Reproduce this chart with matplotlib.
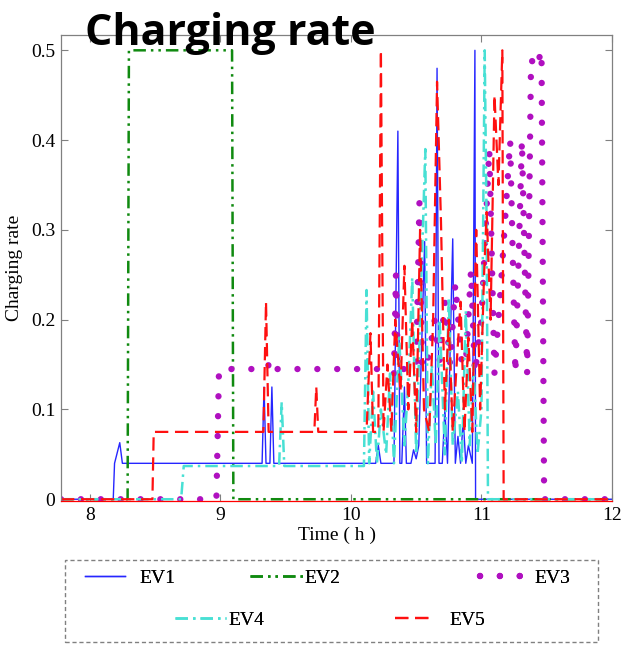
import numpy as np
import matplotlib
matplotlib.use('Agg')
import matplotlib.pyplot as plt

# charging rate of each EV over time (h)
t_ev1 = [7.78, 8.18, 8.19, 8.23, 8.25, 9.32, 9.335, 9.35, 9.38, 9.395, 9.41, 10.19, 10.21, 10.23,
         10.33, 10.36, 10.375, 10.39, 10.41, 10.425, 10.46, 10.48, 10.5, 10.52, 10.565, 10.58,
         10.62, 10.645, 10.66, 10.675, 10.7, 10.72, 10.74, 10.78, 10.80, 10.82, 10.84, 10.86,
         10.88, 10.9, 10.93, 10.95, 10.955, 12.0]
ev1 = [0, 0, 0.04, 0.063, 0.04, 0.04, 0.125, 0.04, 0.04, 0.125, 0.04, 0.04, 0.06, 0.04,
       0.04, 0.41, 0.04, 0.04, 0.125, 0.04, 0.04, 0.055, 0.045, 0.06, 0.287, 0.04,
       0.04, 0.04, 0.48, 0.04, 0.04, 0.1, 0.04, 0.29, 0.04, 0.07, 0.04, 0.09,
       0.04, 0.06, 0.04, 0.5, 0.0, 0.0]

t_ev2 = [7.78, 8.29, 8.30, 9.09, 9.10, 12.0]
ev2 = [0, 0, 0.5, 0.5, 0, 0]

t_ev3 = [7.78, 8.97, 8.99, 9.36, 9.38, 9.40, 10.31, 10.33, 10.345, 10.36, 10.50, 10.525, 10.545,
         10.6, 10.64, 10.68, 10.72, 10.76, 10.8, 10.85, 10.88, 10.92, 10.95, 11.0, 11.06, 11.1,
         11.15, 11.22, 11.26, 11.31, 11.35, 11.38, 11.42, 11.46, 11.48, 12.0]
ev3 = [0, 0, 0.145, 0.145, 0.155, 0.145, 0.145, 0.14, 0.25, 0.145, 0.145, 0.33, 0.145,
       0.16, 0.2, 0.155, 0.22, 0.15, 0.24, 0.15, 0.15, 0.255, 0.14, 0.2, 0.39, 0.14,
       0.24, 0.40, 0.14, 0.40, 0.14, 0.49, 0.48, 0.5, 0.0, 0]

t_ev4 = [7.78, 8.70, 8.72, 9.45, 9.47, 9.49, 10.10, 10.12, 10.14, 10.17, 10.2, 10.23, 10.27, 10.3,
         10.33, 10.37, 10.41, 10.44, 10.47, 10.5, 10.53, 10.57, 10.59, 10.62, 10.65, 10.68,
         10.72, 10.75, 10.78, 10.82, 10.85, 10.88, 10.91, 10.94, 10.97, 11.0, 11.025, 11.04,
         11.05, 12.0]
ev4 = [0, 0, 0.037, 0.037, 0.108, 0.037, 0.037, 0.233, 0.04, 0.12, 0.04, 0.1, 0.05, 0.14,
       0.04, 0.18, 0.06, 0.13, 0.247, 0.05, 0.2, 0.39, 0.04, 0.15, 0.06, 0.2,
       0.05, 0.225, 0.06, 0.12, 0.04, 0.21, 0.06, 0.15, 0.05, 0.1, 0.5, 0.3,
       0.0, 0]

t_ev5 = [7.78, 8.48, 8.49, 9.33, 9.35, 9.37, 9.72, 9.735, 9.75, 10.12, 10.15, 10.17, 10.21, 10.23,
         10.25, 10.28, 10.31, 10.34, 10.38, 10.41, 10.44, 10.47, 10.5, 10.53, 10.56, 10.6,
         10.63, 10.66, 10.69, 10.72, 10.75, 10.78, 10.81, 10.84, 10.87, 10.9, 10.93, 10.96,
         10.99, 11.02, 11.04, 11.07, 11.10, 11.13, 11.16, 11.17, 12.0]
ev5 = [0, 0, 0.075, 0.075, 0.22, 0.075, 0.075, 0.125, 0.075, 0.075, 0.185, 0.075, 0.075, 0.5,
       0.075, 0.15, 0.075, 0.2, 0.12, 0.26, 0.1, 0.2, 0.075, 0.3, 0.1, 0.075,
       0.2, 0.465, 0.31, 0.1, 0.2, 0.075, 0.15, 0.22, 0.075, 0.18, 0.075, 0.3,
       0.1, 0.25, 0.32, 0.2, 0.45, 0.35, 0.5, 0.0, 0]

xticks = [8, 9, 10, 11, 12]
yticks = [0, 0.1, 0.2, 0.3, 0.4, 0.5]
ytick_labels = ['0', '0.1', '0.2', '0.3', '0.4', '0.5']

serif = 'Liberation Serif'
grey = '#808080'
W, H = 629, 649

fig = plt.figure(figsize=(6.29, 6.49), dpi=100)
ax = fig.add_axes([0.097, 0.228, 0.876, 0.718])

l1, = ax.plot(t_ev1, ev1, color='#2626ff', lw=1.0, label='EV1')
l2, = ax.plot(t_ev2, ev2, color='#108a10', lw=1.8, dashes=(5, 2, 1, 2, 1, 2), label='EV2')
l3, = ax.plot(t_ev3, ev3, color='#b010c0', lw=4.6, dashes=(0.01, 3.1),
              dash_capstyle='round', label='EV3')
l4, = ax.plot(t_ev4, ev4, color='#48e0d4', lw=1.8, dashes=(5, 2, 1, 2), label='EV4')
l5, = ax.plot(t_ev5, ev5, color='#ff1010', lw=1.6, dashes=(6, 3), label='EV5')

ax.set_xlim(7.78, 12)
ax.set_ylim(-0.002, 0.517)
ax.set_xticks(xticks)
ax.set_yticks(yticks)
ax.set_yticklabels(ytick_labels)
ax.tick_params(direction='in', top=True, right=True, length=5, color=grey,
               labelsize=14, pad=4)
for lab in ax.get_xticklabels() + ax.get_yticklabels():
    lab.set_family(serif)
for s in ax.spines.values():
    s.set_color(grey)
    s.set_linewidth(0.9)
ax.spines['bottom'].set_color('red')

ax.set_xlabel('Time ( h )', family=serif, fontsize=14, labelpad=2)
ax.set_ylabel('Charging rate', family=serif, fontsize=14, labelpad=6)

fig.text(85 / W, 1 - 45 / H, 'Charging rate', family=['Open Sans', 'DejaVu Sans'],
         weight='bold', fontsize=31, va='baseline', ha='left')

# legend: dashed frame, one entry per position
frame = plt.Rectangle((65 / W, 1 - 642 / H), 533 / W, 82 / H, transform=fig.transFigure,
                      fill=False, ec=grey, lw=1.0, ls=(0, (3, 2)))
fig.add_artist(frame)
entries = [(l1, 85, 578, 2.05, 0.75), (l2, 250, 578, 2.8, 0.0), (l3, 480, 578, 2.4, 0.4),
           (l4, 175, 620, 2.6, 0.15), (l5, 395, 620, 1.8, 1.0)]
for h, x, y, hl, pad in entries:
    leg = fig.legend(handles=[h], loc='center left', bbox_to_anchor=(x / W, 1 - y / H),
                     frameon=False, prop={'family': serif, 'size': 14},
                     handlelength=hl, handletextpad=pad, borderpad=0, borderaxespad=0)
    fig.add_artist(leg)

fig.savefig('out.png', dpi=100)
